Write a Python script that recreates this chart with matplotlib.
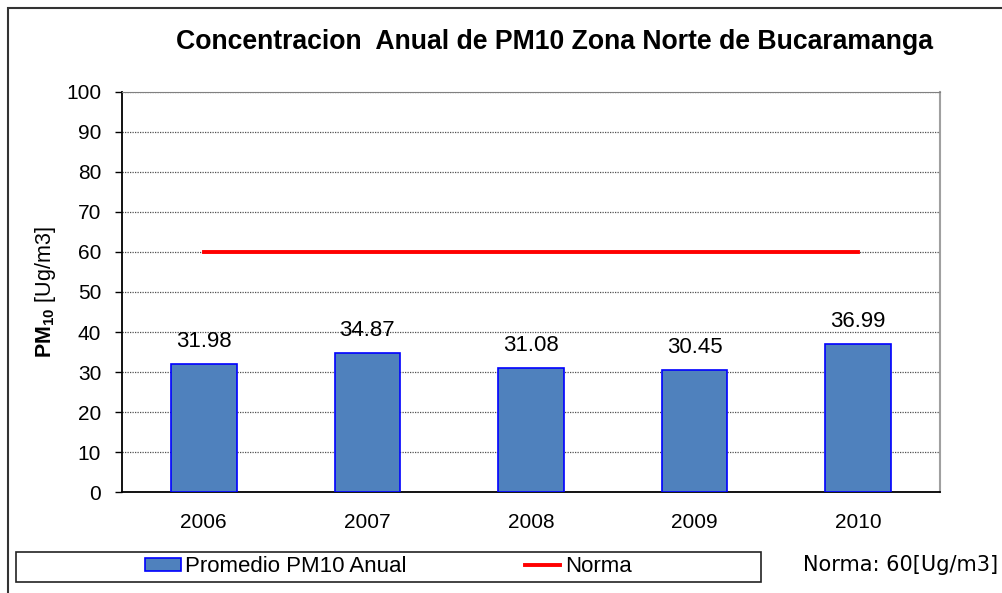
import matplotlib
matplotlib.use("Agg")
import matplotlib.pyplot as plt
from matplotlib.patches import Rectangle, Patch
from matplotlib.lines import Line2D

# data
years = ["2006", "2007", "2008", "2009", "2010"]
pm10 = [31.98, 34.87, 31.08, 30.45, 36.99]
norma = [60, 60, 60, 60, 60]

plt.rcParams["font.family"] = ["Liberation Sans", "DejaVu Sans"]
plt.rcParams["mathtext.fontset"] = "custom"
plt.rcParams["mathtext.rm"] = "Liberation Sans"
plt.rcParams["mathtext.bf"] = "Liberation Sans:bold"

W, H = 1003, 593
fig = plt.figure(figsize=(W / 100, H / 100), dpi=100)
ax = fig.add_axes([122 / W, 1 - 492 / H, 818 / W, 400 / H])

x = list(range(len(years)))
ax.bar(x, pm10, width=0.4, color="#4F81BD", edgecolor="#0000FF", linewidth=1.2, zorder=3)
ax.plot(x, norma, color="#FF0000", linewidth=2.8, zorder=4)

for xi, v in zip(x, pm10):
    ax.annotate(f"{v:.2f}", (xi, v), xytext=(0, 8.5), textcoords="offset points",
                ha="center", va="bottom", fontsize=16)

ax.set_xlim(-0.5, len(years) - 0.5)
ax.set_ylim(0, 100)
ax.set_yticks(range(0, 101, 10))
ax.set_xticks(x)
ax.set_xticklabels(years)
ax.tick_params(axis="x", length=0, pad=15, labelsize=15)
ax.tick_params(axis="y", length=5, width=1, pad=10, labelsize=15)
ax.yaxis.grid(True, linestyle=(0, (1, 1)), color="#505050", linewidth=0.9, zorder=0)
ax.set_axisbelow(True)

for side in ["left", "bottom"]:
    ax.spines[side].set_color("black")
    ax.spines[side].set_linewidth(1.3)
ax.spines["top"].set_color("#808080")
ax.spines["right"].set_color("#a0a0a0")
ax.spines["right"].set_linewidth(1.5)

ax.set_ylabel(r"$\mathbf{PM_{10}}$ [Ug/m3]", fontsize=15.5, labelpad=6)

# title
fig.text(554 / W, 1 - 42 / H, "Concentracion  Anual de PM10 Zona Norte de Bucaramanga",
         ha="center", va="center", fontsize=19.2, fontweight="bold")

# outer frame
fig.patches.append(Rectangle((8 / W, -0.1), 1.2, 1.1 - 8 / H, transform=fig.transFigure,
                             fill=False, edgecolor="#333333", linewidth=1.5))

# legend box
fig.patches.append(Rectangle((16 / W, 1 - 582 / H), 745 / W, 30 / H, transform=fig.transFigure,
                             fill=False, edgecolor="#222222", linewidth=1.2))
handles = [Patch(facecolor="#4F81BD", edgecolor="#0000FF", linewidth=1.2),
           Line2D([0], [0], color="#FF0000", linewidth=2.8)]
fig.legend(handles, ["Promedio PM10 Anual", "Norma"], loc="center",
           bbox_to_anchor=(388.5 / W, 1 - 567 / H), ncol=2, frameon=False,
           fontsize=16, handlelength=1.6, handleheight=0.55, handletextpad=0.2,
           columnspacing=5.3)

fig.text(803 / W, 1 - 571 / H, "Norma: 60[Ug/m3]", family="DejaVu Sans",
         fontsize=15, ha="left", va="baseline")

fig.savefig("out.png", dpi=100, facecolor="white")
